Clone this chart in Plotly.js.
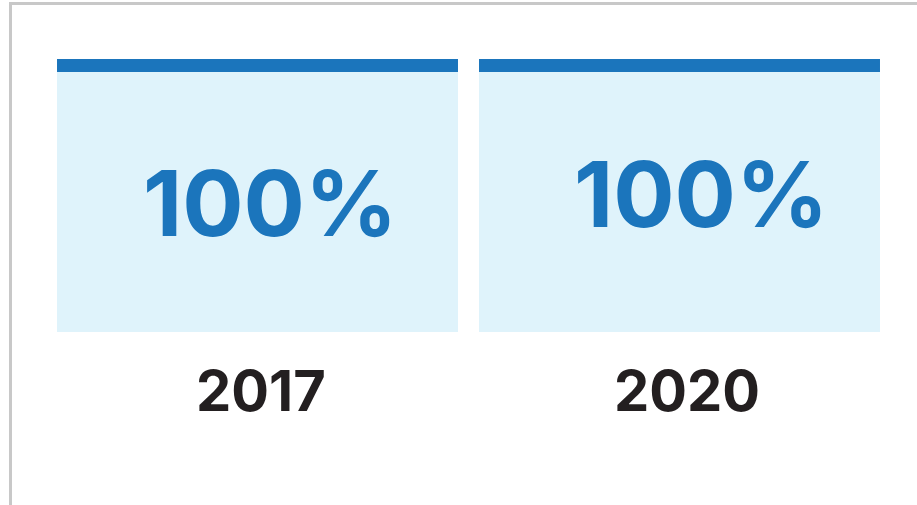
<!DOCTYPE html>
<html>
<head>
<meta charset="utf-8">
<script src="https://cdn.plot.ly/plotly-3.0.1.min.js"></script>
<style>html,body{margin:0;padding:0;background:#fff;}#chart{width:917px;height:505px;}</style>
</head>
<body>
<div id="chart"></div>
<script>
// Data
var years = ['2017', '2020'];
var values = [100, 100];
var capHeight = [5, 5];   // thickness of the dark header strip, in value units

var W = 917, H = 505;
var blue = '#1b75bc';
var light = '#dff3fb';

var boxTrace = {
  type: 'bar', x: years, y: values, base: [0, 0],
  marker: {color: light, line: {width: 0}},
  hoverinfo: 'skip', showlegend: false
};
var capTrace = {
  type: 'bar', x: years, y: capHeight, base: values,
  marker: {color: blue, line: {width: 0}},
  hoverinfo: 'skip', showlegend: false
};

var valueShift = [[12, -1], [21, 8]];
var yearShift = [3, 7];
var annotations = [];
years.forEach(function (yr, i) {
  annotations.push({
    x: i, y: values[i] / 2, xref: 'x', yref: 'y',
    text: values[i] + '%', showarrow: false,
    xshift: valueShift[i][0], yshift: valueShift[i][1],
    font: {family: 'Inter', size: 91, color: blue, weight: 700}
  });
  annotations.push({
    x: i, y: 0, xref: 'x', yref: 'y', yanchor: 'top',
    text: yr, showarrow: false,
    xshift: yearShift[i], yshift: -23,
    font: {family: 'Inter', size: 56, color: '#231f20', weight: 700}
  });
});

var layout = {
  width: W, height: H,
  margin: {l: 0, r: 0, t: 0, b: 0},
  paper_bgcolor: '#ffffff', plot_bgcolor: 'rgba(0,0,0,0)',
  barmode: 'overlay', bargap: 0.0498,
  xaxis: {
    type: 'category', range: [-0.5, 1.5],
    domain: [46.5 / W, 890.5 / W],
    showgrid: false, zeroline: false, showline: false, ticks: '',
    showticklabels: false, fixedrange: true
  },
  yaxis: {
    range: [0, 105], domain: [(H - 332) / H, (H - 59) / H],
    visible: false, fixedrange: true
  },
  annotations: annotations,
  shapes: [
    {type: 'line', xref: 'paper', yref: 'paper', x0: 10.5 / W, x1: 1, y0: 1 - 3.5 / H, y1: 1 - 3.5 / H,
     line: {color: '#c8c8c8', width: 3}},
    {type: 'line', xref: 'paper', yref: 'paper', x0: 10.5 / W, x1: 10.5 / W, y0: 0, y1: 1 - 2 / H,
     line: {color: '#c8c8c8', width: 3}}
  ]
};

Plotly.newPlot('chart', [boxTrace, capTrace], layout, {displayModeBar: false, staticPlot: true});
</script>
</body>
</html>
